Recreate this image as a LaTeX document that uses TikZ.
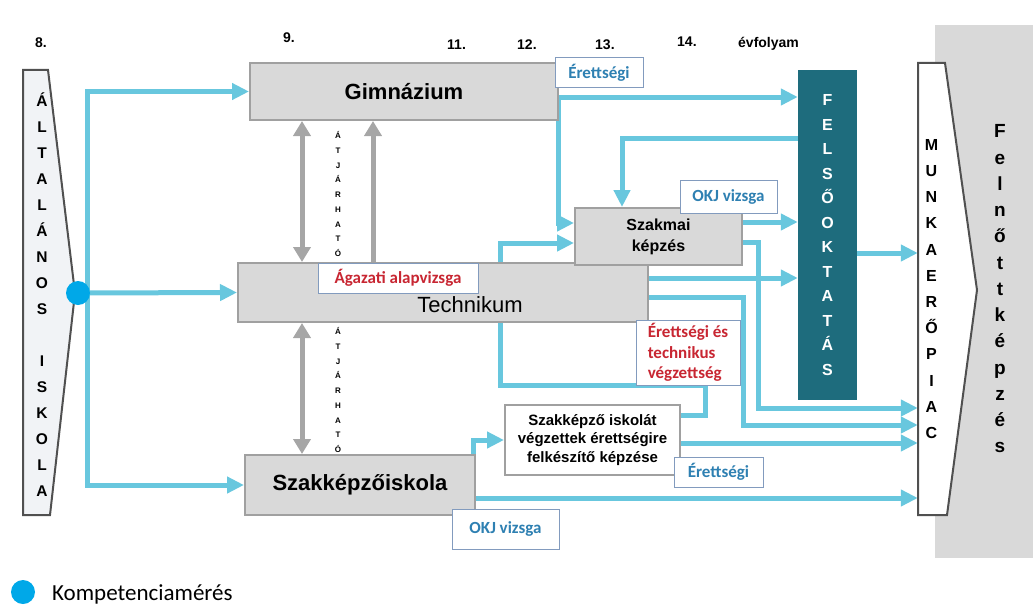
\documentclass[tikz,border=0pt]{standalone}
\usepackage{fontspec}
\setmainfont{Liberation Sans}
\newfontfamily\calfont{Carlito}
\usetikzlibrary{arrows.meta,backgrounds}

\definecolor{flowblue}{RGB}{104,199,222}
\definecolor{dotblue}{RGB}{0,168,232}
\definecolor{boxgray}{RGB}{217,217,217}
\definecolor{boxline}{RGB}{160,160,160}
\definecolor{atjgray}{RGB}{166,166,166}
\definecolor{feltil}{RGB}{30,108,125}
\definecolor{labblue}{RGB}{46,128,178}
\definecolor{labred}{RGB}{200,38,50}
\definecolor{labline}{RGB}{130,155,190}
\definecolor{edgedark}{RGB}{80,80,80}
\definecolor{altfill}{RGB}{241,243,246}

\begin{document}
\begin{tikzpicture}[
  x=1pt, y=-1pt,
  iskola/.style={
    draw=boxline, fill=boxgray, line width=2pt, inner sep=0pt
  },
  felirat/.style={
    draw=labline, fill=white, line width=1pt, inner sep=0pt,
    font=\calfont\bfseries\fontsize{17}{20.5}\selectfont
  },
  oszlop/.style={inner sep=0pt, align=center},
  evf/.style={anchor=base west, inner sep=0pt, font=\bfseries\fontsize{14}{16}\selectfont},
  atj/.style={inner sep=0pt, align=center, font=\bfseries\fontsize{8}{14.75}\selectfont},
  kontur/.style={draw=edgedark, line width=2pt, line join=miter},
  pont/.style={shape=circle, fill=dotblue, minimum size=24pt, inner sep=0pt},
  flow/.style={line width=5pt, draw=flowblue},
  nyil/.style={-{Triangle[length=17pt,width=16pt]}},
  szurke/.style={line width=5pt, draw=atjgray},
  szfej/.style={-{Triangle[length=15pt,width=17pt]}},
  szket/.style={{Triangle[length=15pt,width=17pt]}-{Triangle[length=15pt,width=17pt]}}
]
\useasboundingbox (0,0) rectangle (1033,610);

% felnottkepzes
\fill[boxgray] (935,25) rectangle (1033,558);
\draw (1000,289) node [oszlop, font=\bfseries\fontsize{19}{26.25}\selectfont] (felnott)
  {F\\e\\l\\n\\ő\\t\\t\\k\\é\\p\\z\\é\\s};

% munkaeropiac, altalanos iskola
\draw[kontur, fill=white] (918,63) -- (945,63) -- (977,290) -- (947,515) -- (918,515) -- cycle;
\draw (931.5,289) node [oszlop, minimum width=27pt, minimum height=452pt,
  font=\bfseries\fontsize{16}{26.2}\selectfont] (munka)
  {M\\U\\N\\K\\A\\E\\R\\Ő\\P\\I\\A\\C};
\draw[kontur, fill=altfill] (23,70) -- (48,70) -- (75,293) -- (50,515) -- (23,515) -- cycle;
\draw (42,295) node [oszlop, font=\bfseries\fontsize{15.5}{26}\selectfont] (alt)
  {Á\\L\\T\\A\\L\\Á\\N\\O\\S\\[26pt]I\\S\\K\\O\\L\\A};

% evfolyamok
\draw (35,48) node [evf] (ev8) {8.};
\draw (283,43) node [evf] (ev9) {9.};
\draw (447,50) node [evf] (ev11) {11.};
\draw (517,50) node [evf] (ev12) {12.};
\draw (595,50) node [evf] (ev13) {13.};
\draw (677,47) node [evf] (ev14) {14.};
\draw (738,48) node [evf] (evf) {évfolyam};

% iskolak
\draw (404,91.5) node [iskola, minimum width=308pt, minimum height=57pt,
  font=\bfseries\fontsize{22}{26}\selectfont] (gim) {Gimnázium};
\draw (443,292.5) node [iskola, minimum width=410pt, minimum height=59pt] (tech) {};
\draw (470,305) node [font=\fontsize{22}{26}\selectfont] (techtxt) {Technikum};
\draw (360,485) node [iskola, minimum width=230pt, minimum height=60pt,
  font=\bfseries\fontsize{22}{26}\selectfont] (szi) {Szakképzőiskola};
\draw (658.5,236.5) node [iskola, minimum width=167pt, minimum height=57pt, align=center,
  font=\bfseries\fontsize{16}{21}\selectfont] (szak) {Szakmai\\képzés};
\draw (592.5,440) node [iskola, fill=white, minimum width=175pt, minimum height=70pt, align=center,
  font=\bfseries\fontsize{15}{18.5}\selectfont] (box2)
  {Szakképző iskolát\\végzettek érettségire\\felkészítő képzése};
\draw (827.5,235) node [oszlop, fill=feltil, text=white, minimum width=59pt, minimum height=330pt,
  font=\bfseries\fontsize{16}{24.5}\selectfont] (fel)
  {F\\E\\L\\S\\Ő\\O\\K\\T\\A\\T\\Á\\S};

% feliratok
\draw (599,72.5) node [felirat, text=labblue, minimum width=88pt, minimum height=29pt] (eret1) {Érettségi};
\draw (728.5,196.5) node [felirat, text=labblue, minimum width=97pt, minimum height=33pt] (okj1) {OKJ vizsga};
\draw (398,278) node [felirat, text=labred, minimum width=160pt, minimum height=30pt] (agaz) {Ágazati alapvizsga};
\draw (688,352.5) node [felirat, text=labred, minimum width=104pt, minimum height=65pt, align=left] (eretech)
  {Érettségi és\\technikus\\végzettség};
\draw (718.5,472) node [felirat, text=labblue, minimum width=89pt, minimum height=30pt] (eret2) {Érettségi};
\draw (505.5,529) node [felirat, text=labblue, minimum width=107pt, minimum height=40pt] (okj2) {OKJ vizsga};

% kompetenciameres
\draw (78,293) node [pont] (kdot) {};
\draw (23,592) node [pont] (legdot) {};
\draw (52,600) node [anchor=base west, inner sep=0pt, font=\calfont\fontsize{23}{26}\selectfont] (legtxt) {Kompetenciamérés};

% atjarhato
\coordinate (atj1) at (302,0);
\coordinate (atj2) at (373,0);
\draw[szurke, szket] (gim.south -| atj1) -- (tech.north -| atj1);
\draw[szurke, szfej] (tech.north -| atj2) -- (gim.south -| atj2);
\draw[szurke, szket] (tech.south -| atj1) -- (szi.north -| atj1);
\draw (338,194) node [atj] (atjfel) {Á\\T\\J\\Á\\R\\H\\A\\T\\Ó};
\draw (338,390) node [atj] (atjle) {Á\\T\\J\\Á\\R\\H\\A\\T\\Ó};

\begin{pgfonlayer}{background}
  \coordinate (abot) at (87,485);
  \draw[flow, {Triangle[length=17pt,width=16pt]}-{Triangle[length=17pt,width=16pt]}]
    (gim.west) -| (abot) -- (szi.west);
  \path (kdot) edge[flow, nyil] (tech.west);

  \coordinate (g1) at (558,97);
  \coordinate (g2) at (558,223);
  \draw[flow, nyil] (g1) -- (fel.west |- g1);
  \draw[flow, nyil] (g1) -- (g2) -- (szak.west |- g2);

  \coordinate (r2) at (622,138);
  \draw[flow, nyil] (fel.west |- r2) -- (r2) -- (r2 |- szak.north);

  \coordinate (s1) at (700,222);
  \draw[flow, nyil] (szak.east |- s1) -- (fel.west |- s1);
  \coordinate (t1) at (700,278);
  \draw[flow, nyil] (tech.east |- t1) -- (fel.west |- t1);

  \coordinate (k1) at (705,415);
  \coordinate (k2) at (705,385);
  \coordinate (k3) at (500,385);
  \coordinate (k4) at (500,243);
  \draw[flow, nyil] (box2.east |- k1) -- (k1) -- (k2) -- (k3) -- (k4) -- (szak.west |- k4);

  \draw[flow, nyil] ([xshift=-3pt]szi.north east) |- (box2.west);

  % munkaeropiac fele
  \coordinate (f2) at (880,253);
  \coordinate (m1) at (758,242);
  \coordinate (m2) at (758,408);
  \coordinate (t2) at (743,297);
  \coordinate (t3) at (743,425);
  \coordinate (b1) at (800,443);
  \coordinate (z1) at (700,498);
  \draw[flow, nyil] (fel.east |- f2) -- (munka.west |- f2);
  \draw[flow, nyil] (szak.east |- m1) -- (m1) -- (m2) -- (munka.west |- m2);
  \draw[flow, nyil] (tech.east |- t2) -- (t2) -- (t3) -- (munka.west |- t3);
  \draw[flow, nyil] (box2.east |- b1) -- (munka.west |- b1);
  \draw[flow, nyil] (szi.east |- z1) -- (munka.west |- z1);
\end{pgfonlayer}
\end{tikzpicture}
\end{document}
